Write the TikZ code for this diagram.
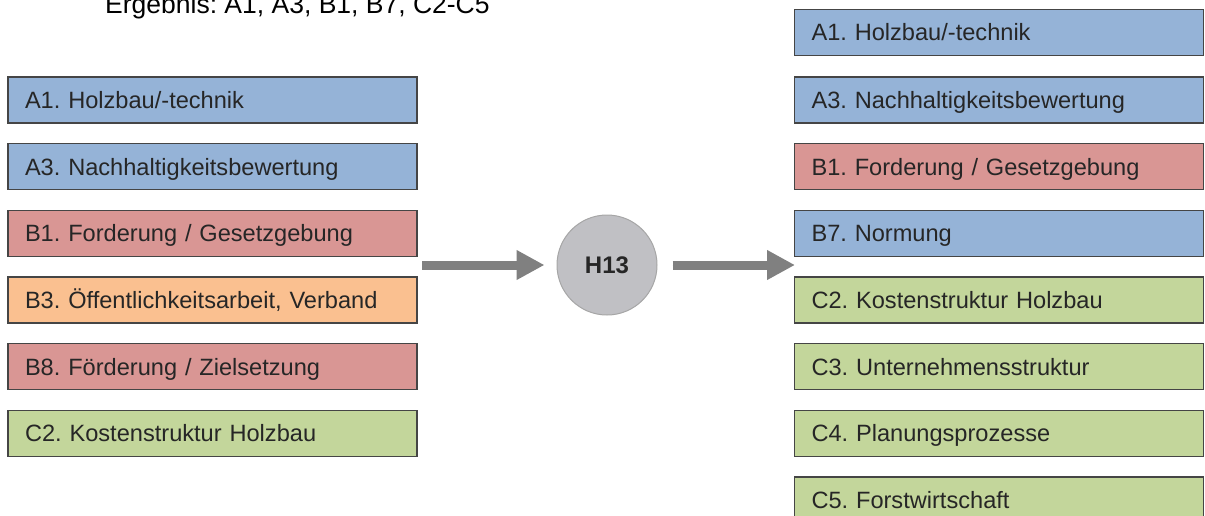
\documentclass[tikz,border=0pt]{standalone}
\usepackage{fontspec}
\setmainfont{Liberation Sans}
\usetikzlibrary{arrows.meta}
\frenchspacing
\definecolor{cblue}{HTML}{95B3D7}
\definecolor{cred}{HTML}{D99694}
\definecolor{corange}{HTML}{FAC090}
\definecolor{cgreen}{HTML}{C3D69B}
\definecolor{cborder}{HTML}{454545}
\definecolor{ctext}{HTML}{262626}
\definecolor{ccircle}{HTML}{C0C0C4}
\definecolor{ccircleborder}{HTML}{A6A6A6}
\definecolor{carrow}{HTML}{808080}
\tikzset{
  itembox/.style={draw=cborder, line width=1.3pt, rectangle, minimum height=46pt,
    text width=375pt, inner xsep=17pt, inner ysep=0pt, align=left,
    text height=16.9pt, text depth=0pt, text=ctext,
    font=\fontsize{23.6}{28}\selectfont},
  bluebox/.style={itembox, fill=cblue},
  redbox/.style={itembox, fill=cred},
  orangebox/.style={itembox, fill=corange},
  greenbox/.style={itembox, fill=cgreen},
  hubnode/.style={circle, draw=ccircleborder, line width=1pt, fill=ccircle,
    minimum size=100pt, inner sep=0pt, text=ctext,
    font=\fontsize{24}{28}\selectfont\bfseries},
  bigarrow/.style={draw=carrow, line width=9pt,
    -{Triangle[length=28pt,width=28pt]}, fill=carrow},
}
\begin{document}
\begin{tikzpicture}[x=1pt,y=-1pt]
\useasboundingbox (0,0) rectangle (1205,515);
\node[anchor=base west, inner sep=0pt, font=\fontsize{26.5}{30}\selectfont] (title) at (105,13.5) {Ergebnis: A1, A3, B1, B7, C2-C5};
% left column
\node[bluebox]   (l1) at (212.5,100)   {A1. Holzbau/-technik};
\node[bluebox]   (l2) at (212.5,166.7) {A3. Nachhaltigkeitsbewertung};
\node[redbox]    (l3) at (212.5,233.3) {B1. Forderung / Gesetzgebung};
\node[orangebox] (l4) at (212.5,300)   {B3. Öffentlichkeitsarbeit, Verband};
\node[redbox]    (l5) at (212.5,366.7) {B8. Förderung / Zielsetzung};
\node[greenbox]  (l6) at (212.5,433.3) {C2. Kostenstruktur Holzbau};
% right column
\node[bluebox]   (r1) at (999,32.5)  {A1. Holzbau/-technik};
\node[bluebox]   (r2) at (999,100)   {A3. Nachhaltigkeitsbewertung};
\node[redbox]    (r3) at (999,166.7) {B1. Forderung / Gesetzgebung};
\node[bluebox]   (r4) at (999,233.3) {B7. Normung};
\node[greenbox]  (r5) at (999,300)   {C2. Kostenstruktur Holzbau};
\node[greenbox]  (r6) at (999,366.7) {C3. Unternehmensstruktur};
\node[greenbox]  (r7) at (999,433.3) {C4. Planungsprozesse};
\node[greenbox]  (r8) at (999,500)   {C5. Forstwirtschaft};
% hub
\node[hubnode] (h) at (607,265) {H13};
% arrows
\coordinate (lin) at (417,265);
\coordinate (rin) at (795,265);
\draw[bigarrow, shorten <=5pt, shorten >=12pt] (lin) -- (h.west);
\draw[bigarrow, shorten <=15pt] (h.east) -- (rin);
\end{tikzpicture}
\end{document}
